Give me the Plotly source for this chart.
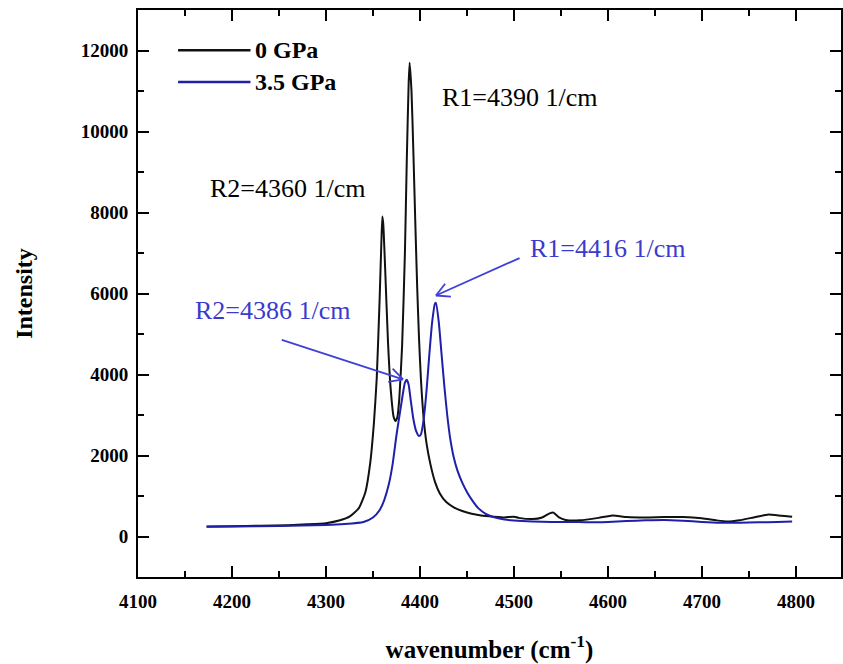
import math
import plotly.graph_objects as go

# 0 GPa spectrum
x0 = [4173, 4200, 4230, 4260, 4280, 4300, 4315, 4325, 4335, 4342, 4347, 4351, 4354, 4357, 4359, 4360,
      4361, 4363, 4366, 4369, 4372, 4374, 4376, 4378, 4381, 4384, 4386, 4388, 4389, 4391, 4393, 4395,
      4397, 4399, 4401, 4404, 4407, 4411, 4416, 4421, 4428, 4436, 4445, 4455, 4465, 4478, 4490, 4500,
      4505, 4520, 4530, 4538, 4542, 4548, 4555, 4570, 4590, 4605, 4620, 4640, 4660, 4680, 4700, 4715,
      4727, 4740, 4755, 4770, 4785, 4796]
y0 = [250, 255, 265, 280, 300, 330, 400, 490, 700, 1100, 1800, 2800, 3900, 5800, 7300, 7900,
      7700, 6600, 4800, 3600, 2950, 2850, 2950, 3400, 4700, 7000, 9300, 11200, 11700, 11000, 9500, 7800,
      6200, 4900, 3900, 2900, 2300, 1800, 1350, 1070, 850, 720, 630, 560, 520, 490, 470, 490,
      460, 430, 470, 570, 590, 470, 410, 400, 460, 520, 480, 470, 480, 480, 450, 400,
      370, 400, 470, 540, 510, 490]

# 3.5 GPa spectrum
x1 = [4173, 4200, 4250, 4300, 4320, 4340, 4350, 4357, 4362, 4367, 4371, 4375, 4379, 4382, 4384, 4386,
      4388, 4390, 4393, 4396, 4399, 4401, 4404, 4407, 4410, 4413, 4416, 4417, 4420, 4423, 4426, 4429,
      4432, 4436, 4440, 4445, 4450, 4456, 4462, 4470, 4480, 4490, 4500, 4520, 4540, 4560, 4580, 4600,
      4620, 4640, 4660, 4680, 4700, 4720, 4740, 4760, 4780, 4796]
y1 = [240, 245, 260, 285, 310, 360, 470, 650, 900, 1300, 1800, 2500, 3100, 3550, 3800, 3870,
      3750, 3400, 2900, 2600, 2480, 2520, 2900, 3600, 4500, 5300, 5750, 5770, 5300, 4500, 3700, 3000,
      2450, 1950, 1620, 1330, 1100, 880, 700, 560, 470, 420, 395, 370, 360, 360, 350, 360,
      380, 400, 410, 390, 360, 340, 340, 350, 360, 370]

names = ["0 GPa", "3.5 GPa"]
colors = ["#111111", "#1f1fa8"]
xticks = [4100, 4200, 4300, 4400, 4500, 4600, 4700, 4800]
yticks = [0, 2000, 4000, 6000, 8000, 10000, 12000]

XR = [4100, 4848]
YR = [-1000, 13000]
W, H = 843, 664
ML, MR, MT, MB = 138, 2, 10, 87

serif = "Liberation Serif, Times New Roman, serif"
ann_blue = "#3a3acc"
arrow_col = "#4040d8"

fig = go.Figure()
fig.add_trace(go.Scatter(x=x0, y=y0, mode="lines", name=names[0], showlegend=False,
                         line=dict(color=colors[0], width=2, shape="spline", smoothing=0.5)))
fig.add_trace(go.Scatter(x=x1, y=y1, mode="lines", name=names[1], showlegend=False,
                         line=dict(color=colors[1], width=2, shape="spline", smoothing=0.5)))

axis_common = dict(
    showline=True, linecolor="black", linewidth=2, mirror="allticks",
    ticks="inside", ticklen=11, tickwidth=2, tickcolor="black",
    showgrid=False, zeroline=False, automargin=False,
    tickfont=dict(family=serif, size=19, color="black", weight="bold"),
)

fig.update_xaxes(**axis_common, range=XR, tickvals=xticks, ticktext=[str(v) for v in xticks],
                 ticklabelstandoff=6,
                 minor=dict(ticks="inside", ticklen=6, tickwidth=2, tickcolor="black", dtick=50, showgrid=False),
                 title=dict(text="wavenumber (cm<sup>-1</sup>)", standoff=30,
                            font=dict(family=serif, size=25, color="black", weight="bold")))
fig.update_yaxes(**axis_common, range=YR, tickvals=yticks, ticktext=[str(v) for v in yticks],
                 ticklabelstandoff=4,
                 minor=dict(ticks="inside", ticklen=6, tickwidth=2, tickcolor="black", dtick=1000, showgrid=False),
                 title=dict(text="Intensity", standoff=41,
                            font=dict(family=serif, size=24, color="black", weight="bold")))

# custom legend (line sample + label)
leg_y = [0.929, 0.873]
for name, col, ly in zip(names, colors, leg_y):
    fig.add_shape(type="line", xref="paper", yref="paper", x0=0.057, x1=0.160, y0=ly, y1=ly,
                  line=dict(color=col, width=2.5))
    fig.add_annotation(xref="paper", yref="paper", x=0.163, y=ly, text=name, showarrow=False,
                       xanchor="left", yanchor="middle",
                       font=dict(family=serif, size=24, color="black", weight="bold"))

annots = [
    dict(x=4421, y=10843, text="R1=4390 1/cm", color="black"),
    dict(x=4174, y=8600, text="R2=4360 1/cm", color="black"),
    dict(x=4515, y=7120, text="R1=4416 1/cm", color=ann_blue),
    dict(x=4158, y=5590, text="R2=4386 1/cm", color=ann_blue),
]
for a in annots:
    fig.add_annotation(x=a["x"], y=a["y"], text=a["text"], showarrow=False, xanchor="left", yanchor="middle",
                       font=dict(family=serif, size=26, color=a["color"]))

# arrows with open V heads (drawn as line shapes)
sx = (W - ML - MR) / (XR[1] - XR[0])   # px per x unit
sy = (H - MT - MB) / (YR[1] - YR[0])   # px per y unit
arrows = [
    dict(x=4417, y=5950, ax=4506, ay=6875),
    dict(x=4382, y=3880, ax=4253, ay=4855),
]
for ar in arrows:
    fig.add_shape(type="line", x0=ar["ax"], y0=ar["ay"], x1=ar["x"], y1=ar["y"],
                  line=dict(color=arrow_col, width=1.8))
    dxp = (ar["ax"] - ar["x"]) * sx
    dyp = (ar["ay"] - ar["y"]) * sy
    ang = math.atan2(dyp, dxp)
    for s in (-1, 1):
        a2 = ang + s * math.radians(28)
        hx = ar["x"] + 15 * math.cos(a2) / sx
        hy = ar["y"] + 15 * math.sin(a2) / sy
        fig.add_shape(type="line", x0=ar["x"], y0=ar["y"], x1=hx, y1=hy,
                      line=dict(color=arrow_col, width=1.8))

fig.update_layout(
    width=W, height=H,
    margin=dict(l=ML, r=MR, t=MT, b=MB),
    paper_bgcolor="white", plot_bgcolor="white",
    showlegend=False,
)

fig.write_html("out.html")
